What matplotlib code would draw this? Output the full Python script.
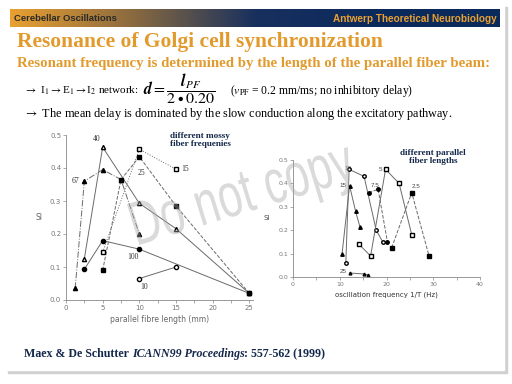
import numpy as np
import matplotlib.pyplot as plt
from matplotlib.colors import LinearSegmentedColormap
from matplotlib.patches import Rectangle, PathPatch
from matplotlib.textpath import TextPath
from matplotlib.font_manager import FontProperties
from matplotlib.transforms import Affine2D, IdentityTransform

# left panel: SI vs parallel fibre length, one curve per mossy fiber frequency
lx_40 = [2.5, 5, 10, 15, 25]
ly_40 = [0.125, 0.463, 0.293, 0.216, 0.02]
lx_67 = [1.25, 2.5, 5, 7.5, 10]
ly_67 = [0.035, 0.36, 0.395, 0.365, 0.2]
lx_25 = [5, 7.5, 10, 15, 25]
ly_25 = [0.09, 0.365, 0.434, 0.285, 0.02]
lx_15 = [5, 10, 15]
ly_15 = [0.145, 0.457, 0.396]
lx_100 = [2.5, 5, 10, 25]
ly_100 = [0.093, 0.18, 0.154, 0.02]
lx_10 = [10, 15]
ly_10 = [0.065, 0.10]

# right panel: SI vs oscillation frequency, one curve per parallel fiber length
rx_15 = [10.5, 12.1, 13.4, 14.3]
ry_15 = [0.10, 0.39, 0.28, 0.215]
rx_10 = [11.3, 12.0, 15.2, 17.8, 19.2]
ry_10 = [0.06, 0.46, 0.43, 0.20, 0.15]
rx_5 = [14.1, 16.6, 19.8, 22.7, 25.4]
ry_5 = [0.14, 0.09, 0.46, 0.40, 0.18]
rx_75 = [16.2, 18.2, 20.2]
ry_75 = [0.36, 0.375, 0.15]
rx_25s = [21.1, 25.4, 29.1]
ry_25s = [0.125, 0.36, 0.09]
rx_25 = [12.1, 15.2, 16.1]
ry_25 = [0.017, 0.013, 0.009]

orange = '#E39A2D'
navy = '#14284B'
lc = '#6a6a6a'
serif = 'Liberation Serif'
plt.rcParams['mathtext.fontset'] = 'stix'

fig = plt.figure(figsize=(5.12, 3.84), dpi=100)
bg = fig.add_axes([0, 0, 1, 1])
bg.set_xlim(0, 512)
bg.set_ylim(384, 0)
bg.axis('off')
renderer = fig.canvas.get_renderer()


def chain(x, y, parts, **kw):
    # put text pieces one after another on the same line
    for s, extra in parts:
        t = bg.text(x, y, s, va='center', zorder=3, **kw, **extra)
        bb = t.get_window_extent(renderer).transformed(bg.transData.inverted())
        x = max(bb.x0, bb.x1)


# slide shadow and page
bg.add_patch(Rectangle((8, 7), 499, 366, color='#d0d0d0', zorder=0))
bg.add_patch(Rectangle((7, 6), 497, 364, color='white', zorder=1))

# header bar with gradient
cmap = LinearSegmentedColormap.from_list('hdr', ['#E9A030', '#8a6a40', '#18305e', '#0b2a5c', '#0b2a5c'])
grad = np.linspace(0, 1, 256).reshape(1, -1)
bg.imshow(grad, cmap=cmap, extent=(10, 500, 27, 9), aspect='auto', zorder=2)
bg.text(14, 18.5, 'Cerebellar Oscillations', fontsize=6.8, fontweight='bold',
        color='#2a2a2a', va='center', ha='left', zorder=3, family='Liberation Sans')
bg.text(497, 18.5, 'Antwerp Theoretical Neurobiology', fontsize=7.2, fontweight='bold',
        color='#E9A030', va='center', ha='right', zorder=3, family='Liberation Sans')

bg.text(17, 42, 'Resonance of Golgi cell synchronization', fontsize=15.5, fontweight='bold',
        color=orange, family=serif, va='center', zorder=3)
bg.text(17, 63, 'Resonant frequency is determined by the length of the parallel fiber beam:',
        fontsize=10.7, fontweight='bold', color=orange, family=serif, va='center', zorder=3)

bg.text(24, 91, r'$\rightarrow$ I$_1$$\rightarrow$E$_1$$\rightarrow$I$_2$ network:',
        fontsize=8, family=serif, va='center', zorder=3)
bg.text(143, 89, r'$\boldsymbol{d} = \dfrac{\boldsymbol{l}_{PF}}{2\bullet0.20}$',
        fontsize=11.5, va='center', zorder=3)
bg.text(230, 91, r'($v_{\rm PF}$ = 0.2 mm/ms; no inhibitory delay)',
        fontsize=8.4, family=serif, va='center', zorder=3)
bg.text(24, 114, r'$\rightarrow$ The mean delay is dominated by the slow conduction along the excitatory pathway.',
        fontsize=8.8, family=serif, va='center', zorder=3)

chain(24, 354, [('Maex & De Schutter ', {}),
                ('ICANN99 Proceedings', {'style': 'italic'}),
                (': 557-562 (1999)', {})],
      fontsize=8.6, fontweight='bold', color=navy, family=serif)

bg.text(170, 140, 'different mossy\nfiber frequenies', fontsize=6.6, fontweight='bold',
        color=navy, family=serif, va='center', ha='left', linespacing=1.1, zorder=3)
bg.text(433, 157, 'different parallel\nfiber lengths', fontsize=6.6, fontweight='bold',
        color=navy, family=serif, va='center', ha='center', linespacing=1.1, zorder=3)


def style_axes(ax):
    for s in ['top', 'right']:
        ax.spines[s].set_visible(False)
    for s in ['left', 'bottom']:
        ax.spines[s].set_color('#888888')
        ax.spines[s].set_linewidth(0.6)
    ax.tick_params(which='both', colors='#888888', labelcolor='#777777', labelsize=5,
                   width=0.5, length=2, pad=1.5)
    ax.patch.set_alpha(0)


# left chart
ax1 = fig.add_axes([66 / 512, 1 - 300 / 384, 187 / 512, 165 / 384])
style_axes(ax1)
kw = dict(color=lc, lw=0.7, ms=3, mec='black', zorder=4)
ax1.plot(lx_40, ly_40, '-', marker='^', mfc='white', **kw)
ax1.plot(lx_67, ly_67, '-.', marker='^', mfc='black', **kw)
ax1.plot(lx_25, ly_25, '--', marker='s', mfc='black', **kw)
ax1.plot(lx_15, ly_15, ':', marker='s', mfc='white', **kw)
ax1.plot(lx_100, ly_100, '-', marker='o', mfc='black', **kw)
ax1.plot(lx_10, ly_10, '-', marker='o', mfc='white', **kw)
tkw = dict(fontsize=5.5, family=serif, color='#333333', ha='center', va='center')
ax1.text(4.2, 0.487, '40', **tkw)
ax1.text(1.3, 0.36, '67', **tkw)
ax1.text(16.3, 0.397, '15', **tkw)
ax1.text(10.3, 0.385, '25', **tkw)
ax1.text(9.1, 0.13, '100', **tkw)
ax1.text(10.6, 0.038, '10', **tkw)
ax1.set_xlim(0, 25.5)
ax1.set_ylim(0, 0.5)
ax1.set_xticks([0, 5, 10, 15, 20, 25])
ax1.set_xticks(np.arange(0, 26, 2.5), minor=True)
ax1.set_yticks([0, 0.1, 0.2, 0.3, 0.4, 0.5])
ax1.set_yticklabels(['0.0', '0.1', '0.2', '0.3', '0.4', '0.5'])
ax1.set_xlabel('parallel fibre length (mm)', fontsize=5.5, color='#666666', labelpad=3)
ax1.set_ylabel('SI', fontsize=5.5, color='#666666', rotation=0, labelpad=8, va='center')

# right chart
ax2 = fig.add_axes([293 / 512, 1 - 277 / 384, 187 / 512, 117 / 384])
style_axes(ax2)
kw = dict(color=lc, lw=0.7, ms=2.5, mec='black', zorder=4)
ax2.plot(rx_15, ry_15, '-', marker='^', mfc='black', **kw)
ax2.plot(rx_10, ry_10, '-', marker='o', mfc='white', **kw)
ax2.plot(rx_5, ry_5, '-', marker='s', mfc='white', **kw)
ax2.plot(rx_75, ry_75, '--', marker='o', mfc='black', **kw)
ax2.plot(rx_25s, ry_25s, '--', marker='s', mfc='black', **kw)
ax2.plot(rx_25, ry_25, '-', marker='^', mfc='white', ms=2, color=lc, lw=0.7, mec='black')
tkw = dict(fontsize=4.5, family='Liberation Sans', color='#444444', ha='center', va='center')
ax2.text(10.6, 0.39, '15', **tkw)
ax2.text(11.7, 0.462, '10', **tkw)
ax2.text(18.6, 0.46, '5', **tkw)
ax2.text(17.5, 0.392, '7.5', **tkw)
ax2.text(26.4, 0.385, '2.5', **tkw)
ax2.text(10.7, 0.022, '25', **tkw)
ax2.set_xlim(0, 40)
ax2.set_ylim(0, 0.5)
ax2.set_xticks([0, 10, 20, 30, 40])
ax2.set_xticks(np.arange(0, 41, 5), minor=True)
ax2.set_yticks([0, 0.1, 0.2, 0.3, 0.4, 0.5])
ax2.set_yticklabels(['0.0', '0.1', '0.2', '0.3', '0.4', '0.5'])
ax2.tick_params(which='both', labelsize=4.5)
ax2.set_xlabel('oscillation frequency 1/T (Hz)', fontsize=5, color='#333333', labelpad=3)
ax2.set_ylabel('SI', fontsize=5, color='#444444', rotation=0, labelpad=8, va='center')

# watermark, a narrowed and tilted text outline drawn in pixel space
wm = TextPath((0, 0), 'Do not copy', size=62, prop=FontProperties(family='Liberation Sans'))
wm_tr = Affine2D().scale(0.7, 1).rotate_deg(17).translate(136, 384 - 246)
fig.patches.append(PathPatch(wm, transform=wm_tr + IdentityTransform(), facecolor='#a8a8a8',
                             edgecolor='none', alpha=0.42, zorder=10, figure=fig))

fig.savefig('out.png', dpi=100)
